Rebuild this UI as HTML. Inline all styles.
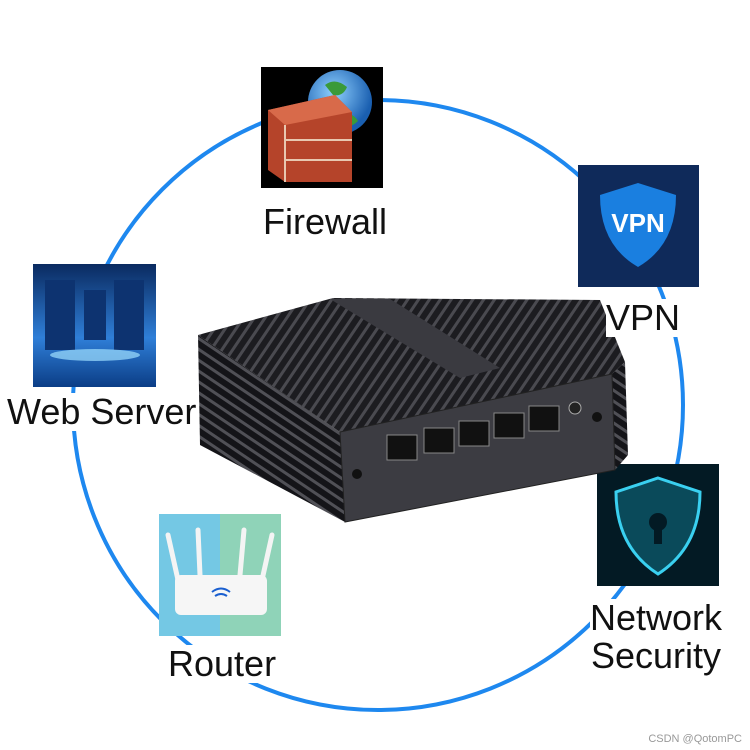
<!DOCTYPE html>
<html><head><style>
body{margin:0;width:750px;height:750px;background:#fff;overflow:hidden;position:relative;font-family:"Liberation Sans",sans-serif}
.lbl{position:absolute;background:#fff;color:#111;font-size:36px;line-height:38px;white-space:nowrap}
</style></head><body>
<svg width="750" height="750" style="position:absolute;left:0;top:0">
<defs>
<pattern id="fins" width="9" height="9" patternUnits="userSpaceOnUse" patternTransform="rotate(34)">
<rect width="9" height="9" fill="#1c1c20"/><rect width="3" height="9" fill="#4a4a50"/></pattern>
<pattern id="fins2" width="9" height="9" patternUnits="userSpaceOnUse" patternTransform="rotate(-56)">
<rect width="9" height="9" fill="#141418"/><rect width="3" height="9" fill="#505056"/></pattern>
<linearGradient id="ws" x1="0" y1="0" x2="0" y2="1"><stop offset="0" stop-color="#0a2a60"/><stop offset=".6" stop-color="#2f7fd8"/><stop offset="1" stop-color="#0b3d86"/></linearGradient>
<radialGradient id="gl" cx=".4" cy=".35" r=".6"><stop offset="0" stop-color="#8fd0ff"/><stop offset="1" stop-color="#1a5fb0"/></radialGradient>
</defs>
<circle cx="378" cy="405" r="305" fill="none" stroke="#1e88ef" stroke-width="4"/>
<!-- firewall -->
<rect x="261" y="67" width="122" height="121" fill="#000"/>
<circle cx="340" cy="102" r="32" fill="url(#gl)"/>
<path d="M325 85 q10 -8 22 2 q-4 10 -14 8z M340 115 q12 -4 18 6 q-8 8 -16 4z" fill="#3a9a3a"/>
<polygon points="268,110 335,95 352,112 352,182 285,182 268,170" fill="#b5442a"/>
<polygon points="268,110 335,95 352,112 285,125" fill="#d86a4a"/>
<g stroke="#e8c8b0" stroke-width="2"><line x1="285" y1="140" x2="352" y2="140"/><line x1="285" y1="160" x2="352" y2="160"/><line x1="285" y1="125" x2="285" y2="182"/></g>
<!-- VPN -->
<rect x="578" y="165" width="121" height="122" fill="#0f2a5a"/>
<path d="M638 183 l38 12 q0 50 -38 72 q-38 -22 -38 -72z" fill="#1a7fe0"/>
<text x="638" y="232" font-size="26" font-weight="bold" fill="#fff" text-anchor="middle" font-family="Liberation Sans">VPN</text>
<!-- web server -->
<rect x="33" y="264" width="123" height="123" fill="url(#ws)"/>
<g fill="#0d3370"><rect x="45" y="280" width="30" height="70"/><rect x="114" y="280" width="30" height="70"/><rect x="84" y="290" width="22" height="50"/></g>
<ellipse cx="95" cy="355" rx="45" ry="6" fill="#9fe0ff" opacity=".7"/>
<!-- network security -->
<rect x="597" y="464" width="122" height="122" fill="#031a24"/>
<path d="M658 478 l42 14 q0 55 -42 82 q-42 -27 -42 -82z" fill="#0a4a5a" stroke="#3ad0f0" stroke-width="3"/>
<circle cx="658" cy="522" r="9" fill="#031a24"/><rect x="654" y="522" width="8" height="22" fill="#031a24"/>
<!-- router -->
<rect x="159" y="514" width="61" height="122" fill="#74c8e4"/>
<rect x="220" y="514" width="61" height="122" fill="#8fd3b8"/>
<g stroke="#f4f4f4" stroke-width="5" stroke-linecap="round"><line x1="178" y1="580" x2="168" y2="535"/><line x1="200" y1="575" x2="198" y2="530"/><line x1="240" y1="575" x2="244" y2="530"/><line x1="262" y1="580" x2="272" y2="535"/></g>
<rect x="175" y="575" width="92" height="40" rx="6" fill="#f6f6f6"/>
<path d="M212 592 q9 -7 18 0 M215 596 q6 -4 12 0" stroke="#1a5fd0" stroke-width="2" fill="none"/>
<!-- PC -->
<polygon points="198,335 333,298 600,300 625,362 612,374 340,432" fill="url(#fins)"/>
<polygon points="330,299 390,299 500,368 460,378" fill="#3a3a40"/>
<polygon points="198,335 340,432 345,522 200,445" fill="url(#fins2)"/>
<polygon points="612,374 625,362 628,455 615,470" fill="url(#fins2)"/>
<polygon points="340,432 612,374 615,470 345,522" fill="#3c3c42" stroke="#222" stroke-width="1"/>
<g fill="#111" stroke="#888" stroke-width="1">
<rect x="387" y="435" width="30" height="25"/><rect x="424" y="428" width="30" height="25"/><rect x="459" y="421" width="30" height="25"/><rect x="494" y="413" width="30" height="25"/><rect x="529" y="406" width="30" height="25"/></g>
<circle cx="575" cy="408" r="6" fill="#222" stroke="#aaa"/>
<circle cx="357" cy="474" r="5" fill="#111"/><circle cx="597" cy="417" r="5" fill="#111"/>
<text x="742" y="742" font-size="11" fill="#999" text-anchor="end" font-family="Liberation Sans">CSDN @QotomPC</text>
</svg>
<div class="lbl" style="left:263px;top:203px">Firewall</div>
<div class="lbl" style="left:606px;top:299px">VPN</div>
<div class="lbl" style="left:7px;top:393px">Web Server</div>
<div class="lbl" style="left:168px;top:645px">Router</div>
<div class="lbl" style="left:590px;top:599px;text-align:center">Network<br>Security</div>
</body></html>
